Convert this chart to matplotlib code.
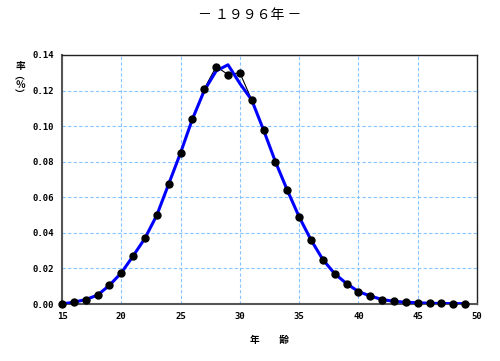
import matplotlib
matplotlib.use("Agg")
import matplotlib.pyplot as plt
from matplotlib.ticker import FormatStrFormatter

plt.rcParams['font.family'] = ['Noto Sans CJK JP', 'DejaVu Sans']

ages = list(range(15, 50))
observed = [0.000, 0.001, 0.0025, 0.005, 0.0105, 0.0175, 0.027, 0.037, 0.050, 0.0675,
            0.085, 0.104, 0.121, 0.1335, 0.129, 0.130, 0.1147, 0.0978, 0.080, 0.064,
            0.049, 0.036, 0.025, 0.017, 0.0115, 0.007, 0.0045, 0.0025, 0.0015, 0.001,
            0.0007, 0.0004, 0.0003, 0.0002, 0.0002]
fitted = [0.000, 0.001, 0.0025, 0.005, 0.0105, 0.0175, 0.027, 0.037, 0.050, 0.0675,
          0.085, 0.104, 0.120, 0.131, 0.1345, 0.124, 0.1147, 0.0978, 0.080, 0.064,
          0.049, 0.036, 0.025, 0.017, 0.0115, 0.007, 0.0045, 0.0025, 0.0015, 0.001,
          0.0007, 0.0004, 0.0003, 0.0002, 0.0002]
xticks = [15, 20, 25, 30, 35, 40, 45, 50]
yticks = [0.00, 0.02, 0.04, 0.06, 0.08, 0.10, 0.12, 0.14]

fig = plt.figure(figsize=(5.0, 3.61), dpi=100)
ax = fig.add_axes([62/500, 1-304/361, 415/500, 249/361])

ax.plot(ages, observed, color='black', lw=0.8, zorder=2)
ax.plot(ages, fitted, color='#0000ff', lw=2.2, zorder=3)
ax.plot(ages, observed, 'o', color='black', ms=5, zorder=4, clip_on=False)

ax.set_xlim(15, 50)
ax.set_ylim(0, 0.14)
ax.set_xticks(xticks)
ax.set_yticks(yticks)
ax.yaxis.set_major_formatter(FormatStrFormatter('%.2f'))
ax.grid(True, color='#88c4ff', linestyle=(0, (3, 2)), lw=0.8)
ax.set_axisbelow(True)
ax.tick_params(axis='both', length=0, labelsize=6.5, pad=6)
for lab in ax.get_xticklabels() + ax.get_yticklabels():
    lab.set_fontweight('bold')
    lab.set_family('DejaVu Sans Mono')
for s in ['left', 'bottom']:
    ax.spines[s].set_color('#555555')
    ax.spines[s].set_linewidth(1.5)
for s in ['top', 'right']:
    ax.spines[s].set_color('#222222')
    ax.spines[s].set_linewidth(1.0)

fig.text(0.5, 1-15/361, '－ １９９６年 －', ha='center', va='center', fontsize=10)
fig.text(270/500, 1-340/361, '年　　齢', ha='center', va='center', fontsize=7, fontweight='bold')
fig.text(20/500, 1-80/361, '率\n︵\n％\n︶', ha='center', va='center', fontsize=7,
         fontweight='bold', linespacing=0.95)

fig.savefig('out.png', dpi=100)
